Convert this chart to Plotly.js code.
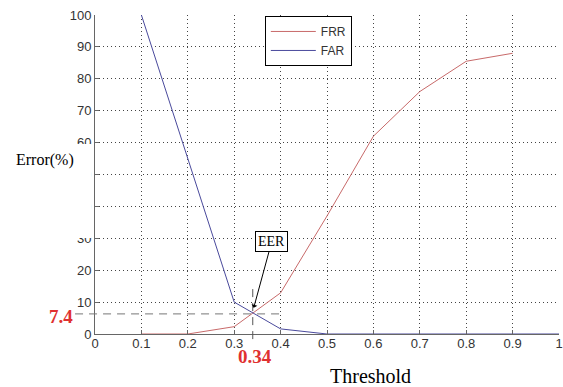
<!DOCTYPE html>
<html>
<head>
<meta charset="utf-8">
<script src="https://cdn.plot.ly/plotly-3.0.1.min.js"></script>
<style>html,body{margin:0;padding:0;background:#fff;}#chart{width:563px;height:387px;}</style>
</head>
<body>
<div id="chart"></div>
<script>
// ---- data ----
const frrThresholds = [0.1, 0.2, 0.3, 0.4, 0.5, 0.6, 0.7, 0.8, 0.9];
const frrValues     = [0, 0, 2.3, 12.9, 37, 62, 76, 85.5, 88];
const farThresholds = [0.1, 0.2, 0.3, 0.4, 0.5, 0.6, 0.7, 0.8, 0.9, 1.0];
const farValues     = [100, 55, 10, 1.6, 0, 0, 0, 0, 0, 0];
const xTickVals   = [0, 0.1, 0.2, 0.3, 0.4, 0.5, 0.6, 0.7, 0.8, 0.9, 1];
const xTickLabels = ['0', '0.1', '0.2', '0.3', '0.4', '0.5', '0.6', '0.7', '0.8', '0.9', '1'];
const yTickVals   = [0, 10, 20, 30, 40, 50, 60, 70, 80, 90, 100];
const yTickLabels = ['0', '10', '20', '30', '40', '50', '60', '70', '80', '90', '100'];
const eerThreshold = 0.34;
const eerError = 6.3;
const eerThresholdLabel = '0.34';
const eerErrorLabel = '7.4';

const xMax = 1, yMax = 100;
const px = v => v / xMax;   // data -> paper (x)
const py = v => v / yMax;   // data -> paper (y)

const traces = [
  {x: frrThresholds, y: frrValues, name: 'FRR', mode: 'lines',
   line: {color: '#c86a6a', width: 1}},
  {x: farThresholds, y: farValues, name: 'FAR', mode: 'lines',
   line: {color: '#4a4a9c', width: 1}}
];

const axisCommon = {
  ticks: 'inside', ticklen: 4, tickcolor: '#666', tickwidth: 1,
  showline: true, linecolor: '#666', linewidth: 1,
  showgrid: true, gridcolor: '#444', gridwidth: 1, griddash: '1px,3px',
  zeroline: false, tickfont: {family: 'Liberation Sans, Arial, sans-serif', size: 13, color: '#333'},
  fixedrange: true
};

const serif = 'Liberation Serif, Times New Roman, serif';

const layout = {
  width: 563, height: 387,
  margin: {l: 95, r: 4, t: 15, b: 53, pad: 0},
  paper_bgcolor: '#fff', plot_bgcolor: '#fff',
  showlegend: true,
  legend: {x: 0.366, y: 0.997, xanchor: 'left', yanchor: 'top',
           bgcolor: '#fff', bordercolor: '#000', borderwidth: 1,
           font: {family: 'Liberation Sans, Arial, sans-serif', size: 12, color: '#333'},
           tracegroupgap: 0, itemwidth: 45},
  xaxis: Object.assign({}, axisCommon, {range: [0, xMax], tickmode: 'array', tickvals: xTickVals, ticktext: xTickLabels, ticklabelstandoff: -3}),
  yaxis: Object.assign({}, axisCommon, {range: [0, yMax], tickmode: 'array', tickvals: yTickVals, ticktext: yTickLabels}),
  shapes: [
    {type: 'rect', xref: 'paper', yref: 'paper', x0: -0.25, x1: -0.007, y0: py(30.1), y1: py(59.6),
     fillcolor: '#fff', line: {width: 0}, layer: 'above'},
    {type: 'line', xref: 'paper', yref: 'paper', x0: -0.043, x1: px(0.4), y0: py(eerError), y1: py(eerError),
     line: {color: '#777', width: 1, dash: '8px,6px'}, layer: 'above'},
    {type: 'line', xref: 'paper', yref: 'paper', x0: px(eerThreshold), x1: px(eerThreshold), y0: py(-1.6), y1: py(14.8),
     line: {color: '#555', width: 1, dash: '8px,6px'}, layer: 'above'}
  ],
  annotations: [
    {xref: 'paper', yref: 'paper', x: -0.1067, y: 0.5455, xanchor: 'center', yanchor: 'middle',
     text: 'Error(%)', showarrow: false, font: {family: serif, size: 16, color: '#000'}},
    {xref: 'paper', yref: 'paper', x: 0.5927, y: -0.1317, xanchor: 'center', yanchor: 'middle',
     text: 'Threshold', showarrow: false, font: {family: serif, size: 20, color: '#000'}},
    {xref: 'paper', yref: 'paper', x: -0.0733, y: 0.0549, xanchor: 'center', yanchor: 'middle',
     text: '<b>' + eerErrorLabel + '</b>', showarrow: false, font: {family: serif, size: 19, color: '#e03030'}},
    {xref: 'paper', yref: 'paper', x: px(eerThreshold) + 0.005, y: -0.072, xanchor: 'center', yanchor: 'middle',
     text: '<b>' + eerThresholdLabel + '</b>', showarrow: false, font: {family: serif, size: 19, color: '#e03030'}},
    {xref: 'x', yref: 'y', x: 0.342, y: 8.2, text: 'EER', showarrow: true, ax: 18, ay: -66,
     arrowhead: 1, arrowsize: 1, arrowwidth: 1, arrowcolor: '#000', standoff: 0,
     bordercolor: '#000', borderwidth: 1, borderpad: 2, bgcolor: '#fff',
     font: {family: serif, size: 14, color: '#000'}}
  ]
};

Plotly.newPlot('chart', traces, layout, {staticPlot: true, displayModeBar: false});
</script>
</body>
</html>
